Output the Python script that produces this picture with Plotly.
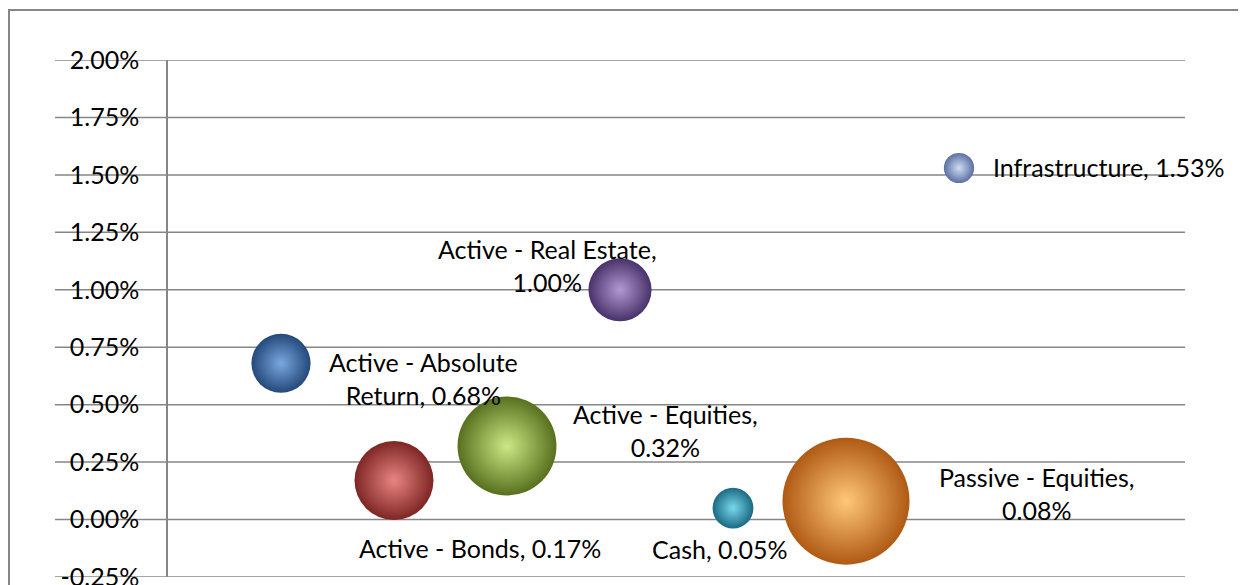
import textwrap
import plotly.graph_objects as go

# ---- data ----
names = ["Active - Absolute Return", "Active - Bonds", "Active - Equities",
         "Active - Real Estate", "Cash", "Passive - Equities", "Infrastructure"]
x_pos = [1, 2, 3, 4, 5, 6, 7]
returns = [0.68, 0.17, 0.32, 1.00, 0.05, 0.08, 1.53]          # y values, %
weights = [6.5, 11.6, 18.2, 7.4, 3.1, 30.0, 1.7]              # bubble size values
y_ticks = [-0.25, 0.0, 0.25, 0.5, 0.75, 1.0, 1.25, 1.5, 1.75, 2.0]
y_tick_text = [f"{v:.2f}%" for v in y_ticks]

# ---- styles ----
edge_colors = ["#24487a", "#7e2624", "#58701e", "#48326a", "#1a6a82", "#b05a14", "#5a70a0"]
center_colors = ["#7aa8e0", "#e88582", "#cce884", "#b498d4", "#7ad8ee", "#ffc878", "#cfdcf4"]
# label offsets in px (dx, dy up) and anchors
label_dx = [142, 86, 158, -73, -14, 190, 32]
label_dy = [-15, -68, 16, 24, -41, 8, 1]
label_anchor = ["center", "center", "center", "center", "center", "center", "left"]

GRID = "#868686"
FONT = "Lato"
FS = 25

# page body has an 8px margin; figure sized to fit the window
OFF = 8
W, H = 1246 - OFF, 585 - OFF
L, R, T, B = 168 - OFF, 61, 60 - OFF, 8
pw = W - L - R
ph = H - T - B

max_d = 127
sizeref = 2 * max(weights) / max_d ** 2

fig = go.Figure()
fig.add_trace(go.Scatter(
    x=x_pos, y=returns, mode="markers",
    marker=dict(size=weights, sizemode="area", sizeref=sizeref,
                color=edge_colors, opacity=1,
                gradient=dict(type="radial", color=center_colors),
                line=dict(width=0)),
    hoverinfo="skip", showlegend=False,
))

annotations = []
for i, n in enumerate(names):
    txt = "<br>".join(textwrap.wrap(f"{n}, {returns[i]:.2f}%", width=21))
    annotations.append(dict(
        x=x_pos[i], y=returns[i], xref="x", yref="y", text=txt, showarrow=False,
        xanchor=label_anchor[i], yanchor="middle", align="center",
        xshift=label_dx[i], yshift=label_dy[i],
        font=dict(family=FONT, size=FS, color="#000000"),
    ))

shapes = []
# outer chart border (left/top visible)
shapes.append(dict(type="rect", xref="paper", yref="paper",
                   x0=(9 - OFF - L) / pw, x1=(W + 20 - L) / pw,
                   y0=-0.3, y1=1 + (T - (10 - OFF)) / ph,
                   line=dict(color=GRID, width=2), fillcolor="rgba(0,0,0,0)", layer="below"))
# horizontal gridlines, extending to the left of the value axis
for v in y_ticks:
    shapes.append(dict(type="line", xref="paper", yref="y",
                       x0=(55 - 168) / pw, x1=1, y0=v, y1=v,
                       line=dict(color=GRID, width=1.5), layer="below"))

fig.update_layout(
    width=W, height=H,
    margin=dict(l=L, r=R, t=T, b=B, autoexpand=False),
    paper_bgcolor="white", plot_bgcolor="white",
    showlegend=False,
    annotations=annotations, shapes=shapes,
    xaxis=dict(range=[0, 9], showgrid=False, zeroline=False, showline=False,
               showticklabels=False, ticks=""),
    yaxis=dict(range=[-0.25, 2.0], tickmode="array", tickvals=y_ticks, ticktext=y_tick_text,
               showgrid=False, zeroline=False,
               showline=True, linecolor=GRID, linewidth=1.5, ticks="",
               ticklabelstandoff=22, ticklabeloverflow="allow",
               tickfont=dict(family=FONT, size=FS, color="#000000")),
)

fig.write_html("out.html")
